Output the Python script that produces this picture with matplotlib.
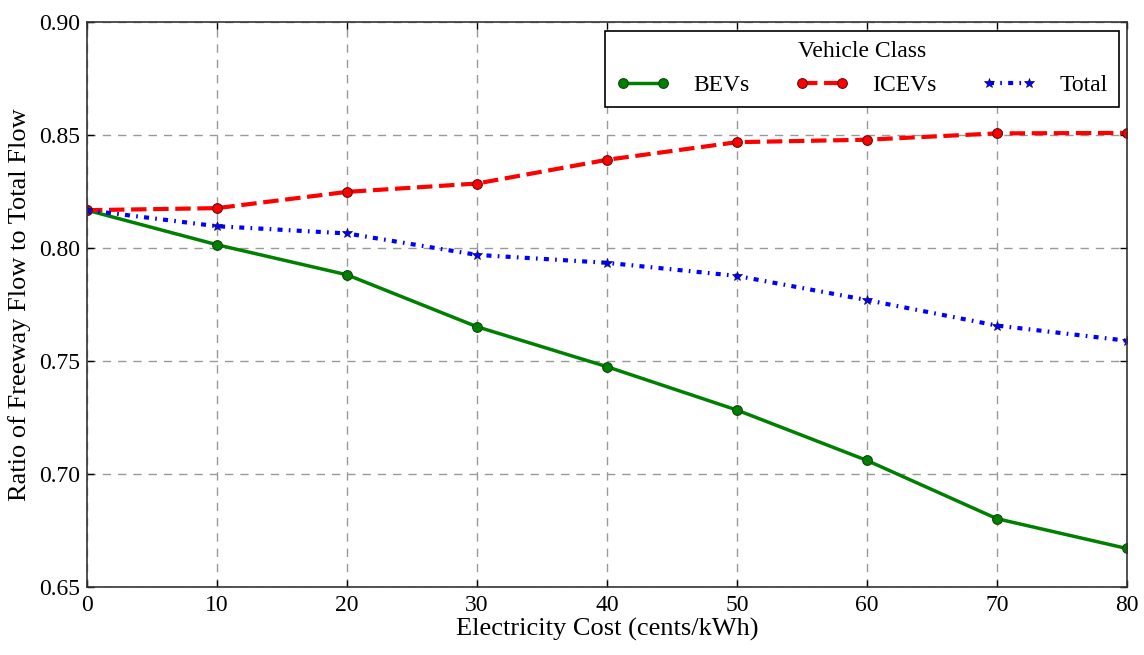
import matplotlib
matplotlib.use('Agg')
import matplotlib.pyplot as plt

# electricity cost sweep and freeway share per vehicle class
cost = [0, 10, 20, 30, 40, 50, 60, 70, 80]
bevs = [0.8168, 0.8015, 0.7882, 0.7652, 0.7475, 0.7283, 0.7060, 0.6802, 0.6670]
icevs = [0.8168, 0.8177, 0.8249, 0.8286, 0.8391, 0.8469, 0.8480, 0.8508, 0.8510]
total = [0.8168, 0.8097, 0.8065, 0.7970, 0.7935, 0.7877, 0.7770, 0.7657, 0.7590]

plt.rcParams['font.family'] = ['Liberation Serif', 'DejaVu Serif']
plt.rcParams['xtick.direction'] = 'in'
plt.rcParams['ytick.direction'] = 'in'
plt.rcParams['xtick.top'] = True
plt.rcParams['ytick.right'] = True

fig = plt.figure(figsize=(11.44, 6.55), dpi=100)
ax = fig.add_axes([0.076, 0.104, 0.909, 0.862])

ax.plot(cost, bevs, '-', color='green', lw=2.5, marker='o', ms=7,
        mec='#114411', mew=0.8, label='BEVs')
ax.plot(cost, icevs, '--', color='red', lw=3, marker='o', ms=7,
        mec='#661111', mew=0.8, label='ICEVs')
ax.plot(cost, total, '-.', color='blue', lw=3, marker='*', ms=7,
        mec='#111155', mew=0.5, label='Total', dashes=(1.2, 1.5, 0.4, 1.5))

ax.set_xlim(0, 80)
ax.set_ylim(0.65, 0.90)
ax.set_xticks(cost)
ax.set_yticks([0.65, 0.70, 0.75, 0.80, 0.85, 0.90])
ax.set_yticklabels(['0.65', '0.70', '0.75', '0.80', '0.85', '0.90'])
ax.tick_params(labelsize=17, length=5, width=1)
ax.tick_params(axis='x', pad=6)
ax.tick_params(axis='y', pad=5)
ax.grid(True, color='#999999', linestyle=(0, (6, 5)), lw=1)
for sp in ax.spines.values():
    sp.set_linewidth(1.2)
    sp.set_color('#333333')

ax.set_xlabel('Electricity Cost (cents/kWh)', fontsize=19, labelpad=1)
ax.set_ylabel('Ratio of Freeway Flow to Total Flow', fontsize=19, labelpad=6)

leg = ax.legend(loc='upper right', ncol=3, title='Vehicle Class', fontsize=17,
                title_fontsize=17, fancybox=False, edgecolor='black',
                framealpha=1, handlelength=2.3, columnspacing=1.9,
                numpoints=2, borderaxespad=0.35, borderpad=0.45,
                handletextpad=1.0)
leg.get_frame().set_linewidth(1.2)
leg._legend_box.sep = 9

fig.savefig('out.png', dpi=100)
